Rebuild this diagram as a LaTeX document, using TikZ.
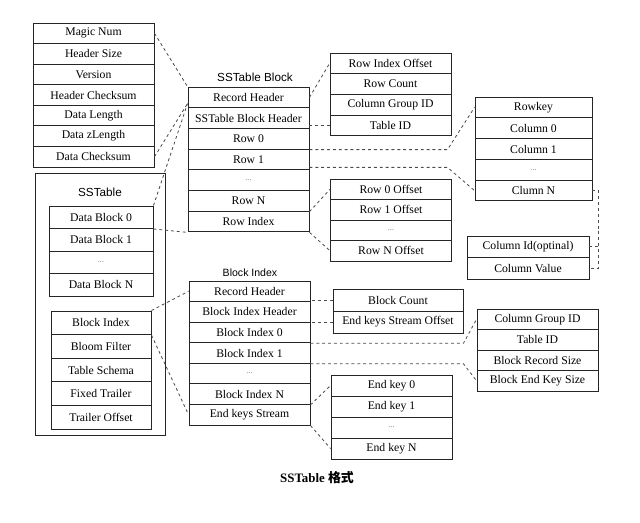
\documentclass[tikz,border=0pt]{standalone}
\usepackage{fontspec}
\setmainfont{Liberation Serif}
\newfontfamily\headfont{Liberation Sans}
\newfontfamily\cjkfont{Noto Sans CJK SC}
\usetikzlibrary{arrows}

\tikzset{
cell/.style={draw=black!85,line width=0.8pt,inner sep=0pt,minimum width=3.63cm,minimum height=0.62cm,font=\fontsize{10}{12}\selectfont},
dbcell/.style={cell,minimum width=3.12cm,minimum height=0.675cm},
bicell/.style={cell,minimum width=3.0cm,minimum height=0.708cm},
bccell/.style={cell,minimum width=3.9cm,minimum height=0.66cm},
cvcell/.style={cell,minimum width=3.66cm,minimum height=0.645cm},
ekcell/.style={cell,minimum height=0.63cm},
ofcell/.style={cell,minimum height=0.615cm},
conn/.style={draw=black!70,line width=0.7pt,dash pattern=on 2.5pt off 2.5pt},
}
\newcommand{\dotsrow}{{\scriptsize\color{black!55}...}}

\begin{document}
\begin{tikzpicture}[x=0.03cm,y=-0.03cm]
\useasboundingbox (0,0) rectangle (640,522);
\node[cell] (magic) at (93.5,33.3) {Magic Num};
\node[cell] (hsize) at (93.5,53.9) {Header Size};
\node[cell] (vers) at (93.5,74.4) {Version};
\node[cell] (hcheck) at (93.5,95) {Header Checksum};
\node[cell] (dlen) at (93.5,115.6) {Data Length};
\node[cell] (dzlen) at (93.5,136.1) {Data zLength};
\node[cell] (dcheck) at (93.5,156.7) {Data Checksum};
\node[draw=black!85,line width=0.8pt,minimum width=3.9cm,minimum height=7.86cm] (sst) at (100,304) {};
\node[font=\headfont\fontsize{10}{12}\selectfont] (sstlab) at (100,192) {SSTable};
\node[dbcell] (db0) at (101,217.25) {Data Block 0};
\node[dbcell] (db1) at (101,239.75) {Data Block 1};
\node[dbcell] (dbd) at (101,262.25) {\dotsrow};
\node[dbcell] (dbn) at (101,284.75) {Data Block N};
\node[bicell] (bidx) at (101,322.8) {Block Index};
\node[bicell] (bloom) at (101,346.4) {Bloom Filter};
\node[bicell] (schema) at (101,370) {Table Schema};
\node[bicell] (ftrail) at (101,393.6) {Fixed Trailer};
\node[bicell] (toff) at (101,417.2) {Trailer Offset};
\node[font=\headfont\fontsize{10}{12}\selectfont] (blklab) at (255,77) {SSTable Block};
\node[cell] (rechdr) at (248.5,97.4) {Record Header};
\node[cell] (blkhdr) at (248.5,118.1) {SSTable Block Header};
\node[cell] (row0) at (248.5,138.8) {Row 0};
\node[cell] (row1) at (248.5,159.5) {Row 1};
\node[cell] (rowd) at (248.5,180.2) {\dotsrow};
\node[cell] (rown) at (248.5,200.9) {Row N};
\node[cell] (rowidx) at (248.5,221.6) {Row Index};
\node[cell] (rioff) at (390.5,63.4) {Row Index Offset};
\node[cell] (rcount) at (390.5,84.1) {Row Count};
\node[cell] (cgid) at (390.5,104.9) {Column Group ID};
\node[cell] (tid) at (390.5,125.6) {Table ID};
\node[cell,minimum width=3.51cm] (rowkey) at (533.5,107.4) {Rowkey};
\node[cell,minimum width=3.51cm] (col0) at (533.5,128.2) {Column 0};
\node[cell,minimum width=3.51cm] (col1) at (533.5,149) {Column 1};
\node[cell,minimum width=3.51cm] (cold) at (533.5,169.8) {\dotsrow};
\node[cell,minimum width=3.51cm] (coln) at (533.5,190.6) {Clumn N};
\node[ofcell] (r0off) at (391,189.25) {Row 0 Offset};
\node[ofcell] (r1off) at (391,209.75) {Row 1 Offset};
\node[ofcell] (roffd) at (391,230.25) {\dotsrow};
\node[ofcell] (rnoff) at (391,250.75) {Row N Offset};
\node[cvcell] (colid) at (528,246.75) {Column Id(optinal)};
\node[cvcell] (colval) at (528,268.25) {Column Value};
\node[font=\headfont\fontsize{9}{11}\selectfont] (bilab) at (250,273) {Block Index};
\node[cell] (birec) at (249.5,291.3) {Record Header};
\node[cell] (bihdr) at (249.5,311.9) {Block Index Header};
\node[cell] (bi0) at (249.5,332.4) {Block Index 0};
\node[cell] (bi1) at (249.5,353) {Block Index 1};
\node[cell] (bid) at (249.5,373.6) {\dotsrow};
\node[cell] (bin) at (249.5,394.1) {Block Index N};
\node[cell] (eks) at (249.5,414.7) {End keys Stream};
\node[bccell] (bcount) at (398,300) {Block Count};
\node[bccell] (ekso) at (398,322) {End keys Stream Offset};
\node[ofcell] (cgid2) at (537.5,319.25) {Column Group ID};
\node[ofcell] (tid2) at (537.5,339.75) {Table ID};
\node[ofcell] (brsize) at (537.5,360.25) {Block Record Size};
\node[ofcell] (beksize) at (537.5,380.75) {Block End Key Size};
\node[ekcell] (ek0) at (391.5,385.5) {End key 0};
\node[ekcell] (ek1) at (391.5,406.5) {End key 1};
\node[ekcell] (ekd) at (391.5,427.5) {\dotsrow};
\node[ekcell] (ekn) at (391.5,448.5) {End key N};
\node[font=\fontsize{11}{13}\selectfont\bfseries] (cap) at (317,478) {SSTable {\cjkfont 格式}};
\path[conn]
(magic.east) edge (rechdr.north west)
(dcheck.east) edge ([yshift=4pt]rechdr.south west)
(db0.north east) edge ([yshift=4pt]rechdr.south west)
(db0.south east) edge (rowidx.south west)
(rechdr.east) edge (rioff.west)
(tid.west) edge (tid.west -| blkhdr.east)
(rown.south east) edge (r0off.west)
(rowidx.south east) edge (rnoff.west)
(colid.east) edge ++(9,0)
(bidx.north east) edge (birec.west)
(bidx.south east) edge (eks.west)
(bcount.west) edge (bcount.west -| birec.east)
(ekso.west) edge (ekso.west -| bihdr.east)
(bin.south east) edge (ek0.west)
(eks.south east) edge (ekn.west)
;
\draw[conn] (row0.south east) -- ++(138,0) -- (rowkey.west);
\draw[conn] ([yshift=2.5pt]row1.south east) -- ++(138,0) -- (coln.west);
\draw[conn] (coln.east) -- ++(6,0) |- (colval.east);
\draw[conn] (bi0.south east) -- ++(153,0) -- (cgid2.west);
\draw[conn] (bi1.south east) -- ++(153,0) -- (beksize.west);
\end{tikzpicture}
\end{document}
